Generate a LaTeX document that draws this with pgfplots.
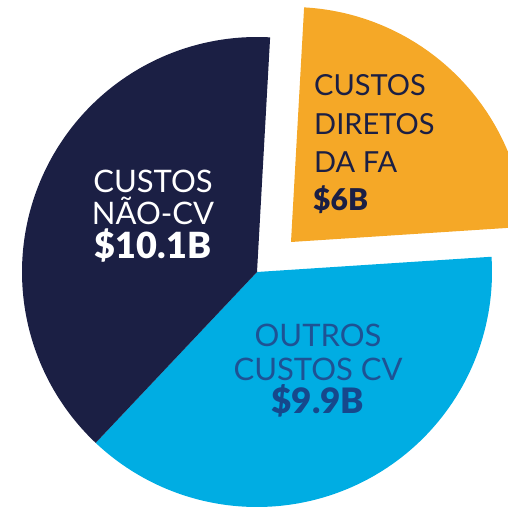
\documentclass[border=0pt]{standalone}
\usepackage{fontspec}
\setmainfont{Lato}[BoldFont={Lato Black}]
\usepackage{pgfplots}
\pgfplotsset{compat=1.18}
\definecolor{navy}{RGB}{27,31,68}
\definecolor{orng}{RGB}{245,168,39}
\definecolor{cyn}{RGB}{0,173,227}
\definecolor{cyntxt}{RGB}{30,82,148}
\definecolor{cynbold}{RGB}{22,72,140}
% values (billions)
\def\vFA{6}
\def\vCV{9.9}
\def\vNC{10.1}
\pgfmathsetmacro\tot{\vFA+\vCV+\vNC}
\def\start{86.8}
\pgfmathsetmacro\aA{\start-360*\vFA/\tot}
\pgfmathsetmacro\aB{\aA-360*\vCV/\tot}
\pgfmathsetmacro\aC{\aB-360*\vNC/\tot}
\def\cx{257}\def\cy{234}\def\R{235}
\pgfmathsetmacro\ox{\cx+34}
\pgfmathsetmacro\oy{\cy+30}
\begin{document}
\begin{tikzpicture}
\begin{axis}[x=1pt,y=1pt,xmin=0,xmax=508,ymin=0,ymax=506,
  axis line style={draw=none},ticks=none,clip=true,
  every axis plot/.append style={draw=none}]
\addplot[fill=orng,domain=\aA:\start,samples=120,variable=\t]
  ({\ox+\R*cos(\t)},{\oy+\R*sin(\t)}) -- (axis cs:\ox,\oy) -- cycle;
\addplot[fill=cyn,domain=\aB:\aA,samples=160,variable=\t]
  ({\cx+\R*cos(\t)},{\cy+\R*sin(\t)}) -- (axis cs:\cx,\cy) -- cycle;
\addplot[fill=navy,domain=\aC:\aB,samples=160,variable=\t]
  ({\cx+\R*cos(\t)},{\cy+\R*sin(\t)}) -- (axis cs:\cx,\cy) -- cycle;
% orange labels
\node[anchor=base west,text=navy,font=\fontsize{29}{29}\selectfont,inner sep=0pt] at (axis cs:314,410) {CUSTOS};
\node[anchor=base west,text=navy,font=\fontsize{29}{29}\selectfont,inner sep=0pt] at (axis cs:314,371) {DIRETOS};
\node[anchor=base west,text=navy,font=\fontsize{29}{29}\selectfont,inner sep=0pt] at (axis cs:314,333) {DA FA};
\node[anchor=base west,text=navy,font=\fontsize{30}{30}\selectfont\bfseries,inner sep=0pt] at (axis cs:313,295) {\$6B};
% navy labels
\node[anchor=base,text=white,font=\fontsize{31}{31}\selectfont,inner sep=0pt] at (axis cs:153,313) {CUSTOS};
\node[anchor=base,text=white,font=\fontsize{31}{31}\selectfont,inner sep=0pt] at (axis cs:153,281) {NÃO-CV};
\node[anchor=base,text=white,font=\fontsize{36}{36}\selectfont\bfseries,inner sep=0pt] at (axis cs:153,247) {\$10.1B};
% cyan labels
\node[anchor=base,text=cyntxt,font=\fontsize{31}{31}\selectfont,inner sep=0pt] at (axis cs:318,159) {OUTROS};
\node[anchor=base,text=cyntxt,font=\fontsize{31}{31}\selectfont,inner sep=0pt] at (axis cs:318,126) {CUSTOS CV};
\node[anchor=base,text=cynbold,font=\fontsize{35}{35}\selectfont\bfseries,inner sep=0pt] at (axis cs:318,93) {\$9.9B};
\end{axis}
\end{tikzpicture}
\end{document}
